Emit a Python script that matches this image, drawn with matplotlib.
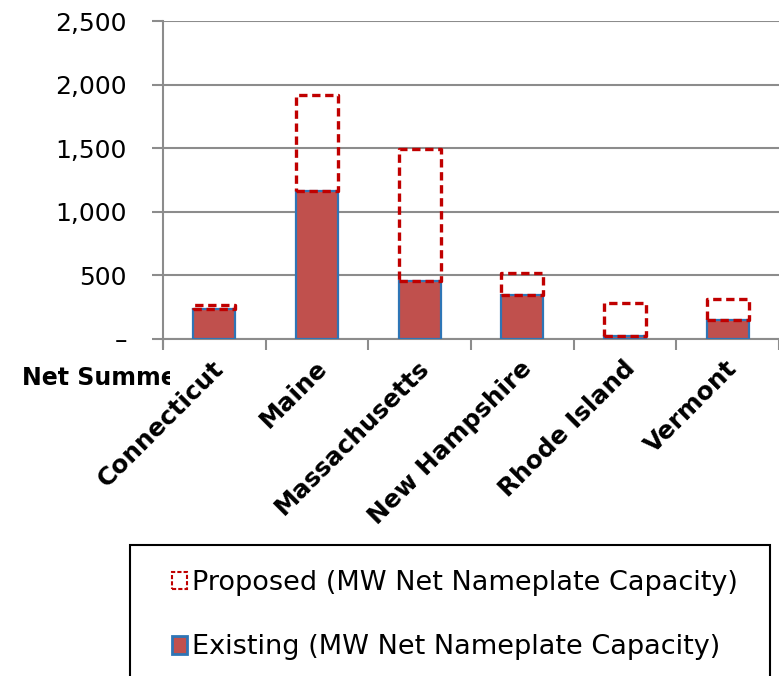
import matplotlib
matplotlib.use("Agg")
import matplotlib.pyplot as plt
from matplotlib.patches import Patch, Rectangle
from matplotlib.ticker import FuncFormatter, MultipleLocator
import numpy as np

# MW capacity by state
states = ["Connecticut", "Maine", "Massachusetts", "New Hampshire", "Rhode Island", "Vermont"]
existing = [232, 1163, 456, 346, 24, 149]
proposed = [33, 755, 1038, 173, 259, 165]

FILL_RED = "#C0504D"
EDGE_BLUE = "#2E75B6"
DASH_RED = "#C00000"
GRID_GRAY = "#8C8C8C"

W, H = 779, 676
fig = plt.figure(figsize=(W / 100, H / 100), dpi=100)
ax = fig.add_axes([163 / W, 1 - 339 / H, 616 / W, 318 / H])

x = np.arange(len(states))
bw = 0.41
ax.bar(x, existing, width=bw, color=FILL_RED, edgecolor=EDGE_BLUE, linewidth=1.6,
       label="Existing (MW Net Nameplate Capacity)", zorder=3)
ax.bar(x, proposed, bottom=existing, width=bw, facecolor="none", edgecolor=DASH_RED,
       linewidth=2.4, linestyle=(0, (2.5, 1.4)), joinstyle="round",
       label="Proposed (MW Net Nameplate Capacity)", zorder=4)

ax.set_xlim(-0.5, len(states) - 0.5)
ax.set_ylim(0, 2500)
ax.yaxis.set_major_locator(MultipleLocator(500))
ax.yaxis.set_major_formatter(FuncFormatter(lambda v, p: "\u2013" if v == 0 else f"{v:,.0f}"))
ax.grid(axis="y", color=GRID_GRAY, linewidth=1.5, zorder=0)
ax.set_axisbelow(True)

for s in ["top", "right"]:
    ax.spines[s].set_visible(False)
for s in ["left", "bottom"]:
    ax.spines[s].set_color(GRID_GRAY)
    ax.spines[s].set_linewidth(1.5)
ax.spines["left"].set_bounds(-60, 2500)

ax.tick_params(axis="y", length=8, width=1.5, color=GRID_GRAY, pad=18, labelsize=18)

# category ticks sit on the boundaries, labels centred under each bar
ax.set_xticks(np.arange(len(states) + 1) - 0.5)
ax.set_xticklabels([])
ax.tick_params(axis="x", length=8, width=1.5, color=GRID_GRAY)
for i, name in enumerate(states):
    ax.text(i + 0.06, -0.08, name, transform=ax.get_xaxis_transform(),
            rotation=45, rotation_mode="anchor", ha="right", va="center",
            fontsize=17.8, fontweight="bold", clip_on=False)

# axis title, cut short by the plot area
title = fig.text(22 / W, 1 - 378 / H, "Net Summer Capacity", fontsize=17,
                 fontweight="bold", ha="left", va="center")
title.set_clip_path(Rectangle((0, 0), 170 / W, 1, transform=fig.transFigure))

# legend box
fig.patches.append(Rectangle((130 / W, -0.1), 640 / W, 1 - 545 / H + 0.1,
                             transform=fig.transFigure, facecolor="white",
                             edgecolor="black", linewidth=1.5))
handles = [Patch(facecolor="white", edgecolor=DASH_RED, linestyle=(0, (2, 1)), linewidth=1.5),
           Patch(facecolor=FILL_RED, edgecolor=EDGE_BLUE, linewidth=2)]
labels = ["Proposed (MW Net Nameplate Capacity)", "Existing (MW Net Nameplate Capacity)"]
fig.legend(handles, labels, loc="upper left", bbox_to_anchor=(172 / W, 1 - 570 / H),
           frameon=False, fontsize=19.5, handlelength=0.55, handleheight=0.6,
           handletextpad=0.2, labelspacing=1.42, borderpad=0, borderaxespad=0)

fig.savefig("out.png", dpi=100)
